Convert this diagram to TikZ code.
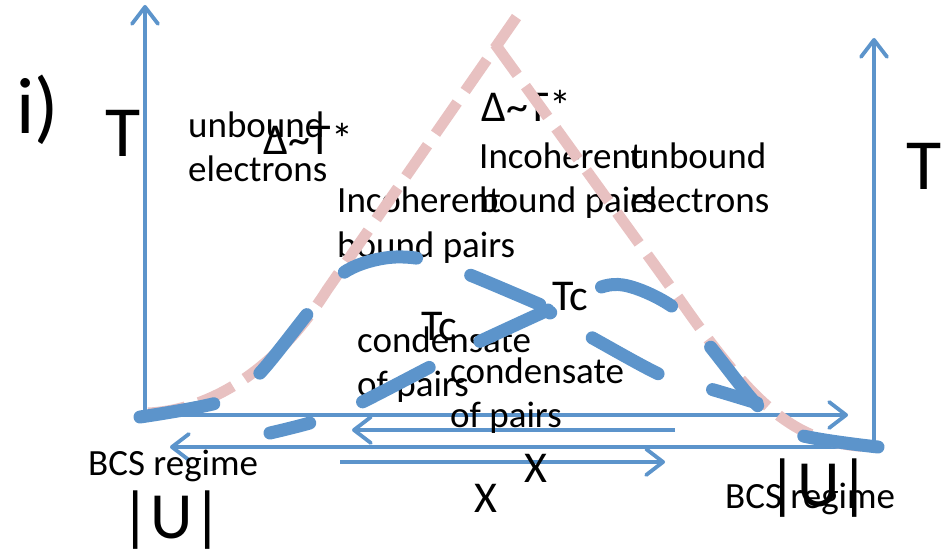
\documentclass[tikz,border=0pt]{standalone}
\usepackage{fontspec}
\setmainfont{Carlito}
\usetikzlibrary{arrows.meta}
\definecolor{axisblue}{RGB}{92,148,203}
\definecolor{tstarpink}{RGB}{232,193,193}

\begin{document}
\begin{tikzpicture}[
      x=1pt, y=-1pt,
      axis/.style={draw=axisblue, line width=3.8pt, -{Straight Barb[length=17pt, width=26pt, round]}},
      tcline/.style={draw=axisblue, line width=13pt, line cap=round, dash pattern=on 75pt off 57pt},
      tstar/.style={draw=tstarpink, line width=11pt, dash pattern=on 38pt off 14pt},
      lbl/.style={anchor=base west, inner sep=0pt, align=left, font=\fontsize{37}{44}\selectfont},
      midlbl/.style={lbl, font=\fontsize{44}{50}\selectfont},
      ulbl/.style={lbl, font=\fontsize{66}{70}\selectfont},
      biglbl/.style={lbl, font=\fontsize{72}{80}\selectfont}
    ]
  \useasboundingbox (0,0) rectangle (952,553);

  % axes
  \coordinate (originA) at (145,415);
  \coordinate (topA) at (145,5);
  \coordinate (endA) at (848,415);
  \coordinate (originB) at (874,447);
  \coordinate (topB) at (874,38);
  \coordinate (endB) at (170,447);
  \coordinate (uStart) at (675,430);
  \coordinate (uEnd) at (352,430);
  \coordinate (xStart) at (340,462);
  \coordinate (xEnd) at (665,462);

  \draw[axis] (originA) -- (topA);
  \draw[axis] (originA) -- (endA);
  \draw[axis] (originB) -- (topB);
  \draw[axis] (originB) -- (endB);
  \draw[axis] (uStart) -- (uEnd);
  \draw[axis] (xStart) -- (xEnd);

  % labels (multi-line ones sit on the baseline of their last line)
  \node[biglbl, font=\fontsize{80}{84}\selectfont] (roman) at (16,134) {i)};
  \node[biglbl] (tA) at (105,157) {T};
  \node[biglbl] (tB) at (906,190) {T};

  \node[lbl] (freeA) at (188,182) {unbound\\electrons};
  \node[midlbl] (gapA) at (263,155) {Δ\textasciitilde T*};
  \node[lbl] (pairsA) at (337,257) {Incoherent\\bound pairs};
  \node[midlbl] (tcA) at (421,340) {Tc};
  \node[lbl] (condA) at (357,396) {condensate\\of pairs};
  \node[lbl] (bcsA) at (88,475) {BCS regime};
  \node[ulbl] (uA) at (120,538) {|U|};
  \node[midlbl] (xA) at (474,512) {X};

  \node[midlbl] (gapB) at (481,122) {Δ\textasciitilde T*};
  \node[lbl] (pairsB) at (479,213) {Incoherent\\bound pairs};
  \node[lbl] (freeB) at (630,213) {unbound\\electrons};
  \node[midlbl] (tcB) at (552,310) {Tc};
  \node[lbl] (condB) at (450,427) {condensate\\of pairs};
  \node[lbl] (bcsB) at (725,508) {BCS regime};
  \node[ulbl] (uB) at (767,506) {|U|};
  \node[midlbl] (xB) at (524,482) {X};

  % T* crossover lines
  \draw[tstar] (148,413) .. controls (200,411) and (270,380) .. (327,290) -- (520,12);
  \draw[tstar] (495,44) -- (680,300) .. controls (760,415) and (800,445) .. (875,447);

  % Tc domes
  \draw[tcline] plot[smooth, tension=0.6] coordinates {(140,417) (227,400) (260,373) (313,307) (343,273) (385,258) (428,260) (470,275) (548,308)};
  \draw[tcline] plot[smooth, tension=0.6] coordinates {(548,310) (468,347) (430,367) (352,407) (313,422) (270,433)};
  \draw[tcline] plot[smooth, tension=0.6] coordinates {(878,447) (792,433) (757,405) (703,338) (670,305) (623,285) (588,292) (550,313)};
  \draw[tcline, dash phase=84pt] plot[smooth, tension=0.6] coordinates {(550,315) (587,335) (665,377) (707,388) (757,403)};
\end{tikzpicture}
\end{document}
